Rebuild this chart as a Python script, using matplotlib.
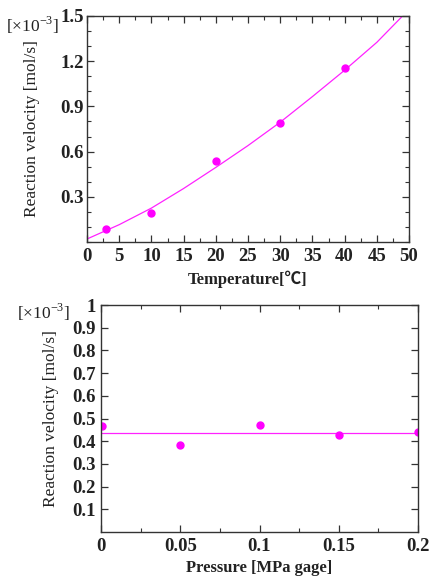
import matplotlib
matplotlib.use("Agg")
import matplotlib.pyplot as plt
from matplotlib.ticker import MultipleLocator, FixedLocator

# ---- data (top panel: temperature) ----
temp_x = [3, 10, 20, 30, 40]
temp_y = [0.085, 0.19, 0.535, 0.79, 1.152]
temp_fit_x = [0, 5, 10, 15, 20, 25, 30, 35, 40, 45, 49]
temp_fit_y = [0.02, 0.115, 0.225, 0.355, 0.495, 0.64, 0.795, 0.965, 1.14, 1.325, 1.5]
temp_xticks = [0, 5, 10, 15, 20, 25, 30, 35, 40, 45, 50]
temp_yticks = [0.3, 0.6, 0.9, 1.2, 1.5]

# ---- data (bottom panel: pressure) ----
pres_x = [0.0005, 0.05, 0.1, 0.15, 0.2]
pres_y = [0.469, 0.384, 0.470, 0.427, 0.440]
pres_fit_x = [0.0, 0.198]
pres_fit_y = [0.436, 0.436]
pres_xticks = [0, 0.05, 0.1, 0.15, 0.2]
pres_xticklabels = ["0", "0.05", "0.1", "0.15", "0.2"]
pres_yticks = [0.1, 0.2, 0.3, 0.4, 0.5, 0.6, 0.7, 0.8, 0.9, 1.0]
pres_yticklabels = ["0.1", "0.2", "0.3", "0.4", "0.5", "0.6", "0.7", "0.8", "0.9", "1"]

MAG = "#FF22FF"
SERIF = ["Liberation Serif", "Noto Sans CJK JP", "DejaVu Serif"]
plt.rcParams["font.family"] = SERIF
plt.rcParams["mathtext.fontset"] = "custom"
plt.rcParams["mathtext.rm"] = "Liberation Serif"

W, H = 430, 577
fig = plt.figure(figsize=(W / 100, H / 100), dpi=100)


def px_axes(l, t, r, b):
    return fig.add_axes([l / W, (H - b) / H, (r - l) / W, (b - t) / H])


def style(ax):
    for s in ax.spines.values():
        s.set_linewidth(1.0)
        s.set_color("#333333")
    ax.tick_params(which="both", direction="in", top=True, right=True, colors="#333333")
    ax.tick_params(which="major", length=5, width=0.9)
    ax.tick_params(which="minor", length=3, width=0.8)
    for lab in ax.get_xticklabels() + ax.get_yticklabels():
        lab.set_fontweight("bold")
        lab.set_fontsize(13.5)
        lab.set_color("#222222")


# ---- top ----
ax1 = px_axes(87, 16, 409, 242)
ax1.plot(temp_fit_x, temp_fit_y, color=MAG, lw=0.9)
ax1.plot(temp_x, temp_y, "o", color="#FF00FF", ms=5, mec="#FF00FF")
ax1.set_xlim(0, 50)
ax1.set_ylim(0, 1.5)
ax1.xaxis.set_major_locator(FixedLocator(temp_xticks))
ax1.xaxis.set_minor_locator(MultipleLocator(2.5))
ax1.yaxis.set_major_locator(FixedLocator(temp_yticks))
ax1.yaxis.set_minor_locator(MultipleLocator(0.1))
ax1.set_xticklabels([str(v) for v in temp_xticks])
ax1.set_yticklabels([f"{v:.1f}" for v in temp_yticks])
style(ax1)
ax1.tick_params(axis="x", pad=4)
ax1.tick_params(axis="y", pad=2)
ax1.set_xlabel("Temperature[℃]", fontsize=12, fontweight="bold", color="#222222", labelpad=4)
ax1.set_ylabel("Reaction velocity [mol/s]", fontsize=12.5, color="#222222", labelpad=15)
fig.text(6 / W, 1 - 25 / H, r"[×10$^{-3}$]", fontsize=12.5, ha="left", va="center", color="#222222")

# ---- bottom ----
ax2 = px_axes(101, 305, 418, 532)
ax2.plot(pres_fit_x, pres_fit_y, color=MAG, lw=0.9)
ax2.plot(pres_x, pres_y, "o", color="#FF00FF", ms=5, mec="#FF00FF")
ax2.set_xlim(0, 0.2)
ax2.set_ylim(0, 1.0)
ax2.xaxis.set_major_locator(FixedLocator(pres_xticks))
ax2.xaxis.set_minor_locator(MultipleLocator(0.025))
ax2.yaxis.set_major_locator(FixedLocator(pres_yticks))
ax2.set_xticklabels(pres_xticklabels)
ax2.set_yticklabels(pres_yticklabels)
style(ax2)
ax2.tick_params(axis="x", pad=4)
ax2.tick_params(axis="y", pad=4)
ax2.set_xlabel("Pressure [MPa gage]", fontsize=12, fontweight="bold", color="#222222", labelpad=4)
ax2.set_ylabel("Reaction velocity [mol/s]", fontsize=12.5, color="#222222", labelpad=9)
fig.text(17 / W, 1 - 312 / H, r"[×10$^{-3}$]", fontsize=12.5, ha="left", va="center", color="#222222")

fig.savefig("out.png", dpi=100)
